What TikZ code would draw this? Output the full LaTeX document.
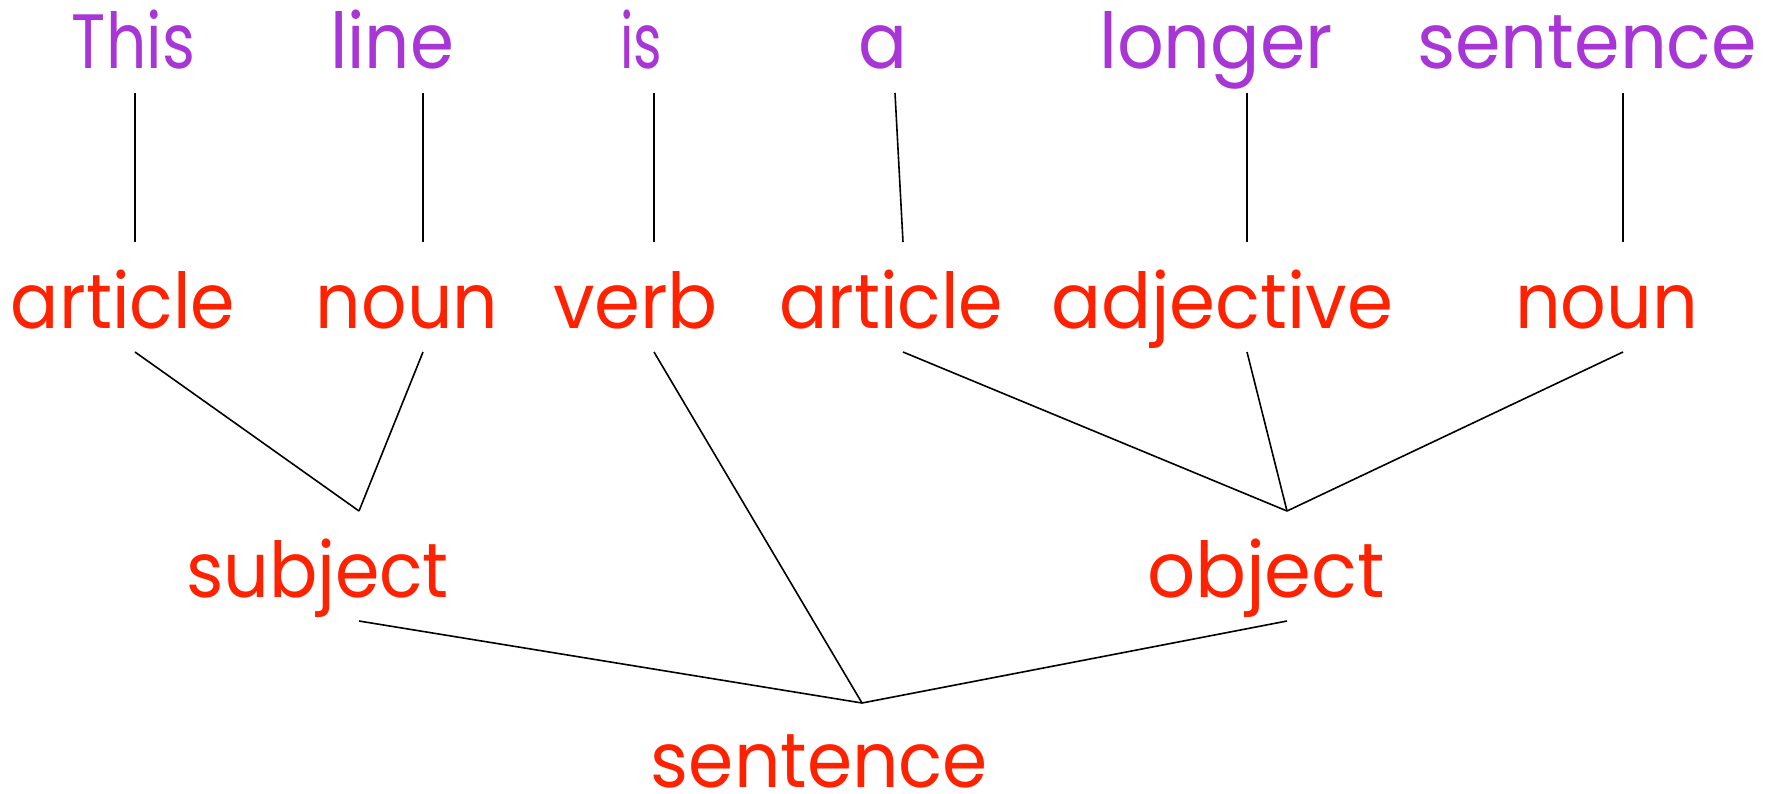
\documentclass[tikz,border=0pt]{standalone}
\usepackage{fontspec}
\usepackage{graphicx}
\setmainfont{Poppins}
\definecolor{wordpurple}{HTML}{A835D6}
\definecolor{partred}{HTML}{FF2200}
\newcommand{\fitw}[2]{\resizebox{#1pt}{\height}{#2}}
\tikzset{
  word/.style={anchor=base, inner sep=0pt, text=wordpurple, font=\fontsize{77}{90}\selectfont},
  part/.style={anchor=base, inner sep=0pt, text=partred, font=\fontsize{77}{90}\selectfont},
  link/.style={draw=black, line width=1.6pt}
}
\begin{document}
\begin{tikzpicture}[x=1pt,y=-1pt]
\useasboundingbox (0,0) rectangle (1773,793);
% words
\node[word] (w1) at (133.5,68) {\fitw{123}{This}};
\node[word] (w2) at (392,68) {\fitw{124}{line}};
\node[word] (w3) at (641,68) {\fitw{42}{is}};
\node[word] (w4) at (883,68) {\fitw{49}{a}};
\node[word] (w5) at (1216,68) {\fitw{234}{longer}};
\node[word] (w6) at (1587,68) {\fitw{340}{sentence}};
% parts of speech
\node[part] (p1) at (123,328) {\fitw{224}{article}};
\node[part] (p2) at (407,328) {\fitw{182}{noun}};
\node[part] (p3) at (635.5,328) {\fitw{165}{verb}};
\node[part] (p4) at (891,328) {\fitw{224}{article}};
\node[part] (p5) at (1222,328) {\fitw{342}{adjective}};
\node[part] (p6) at (1606.5,328) {\fitw{183}{noun}};
\node[part] (subj) at (317.5,597) {\fitw{263}{subject}};
\node[part] (obj) at (1266,597) {\fitw{238}{object}};
\node[part] (sent) at (819.5,787) {\fitw{337}{sentence}};
% connector end points
\coordinate (w1b) at (135,93);   \coordinate (p1t) at (135,242);
\coordinate (w2b) at (423,93);   \coordinate (p2t) at (423,242);
\coordinate (w3b) at (654,93);   \coordinate (p3t) at (654,242);
\coordinate (w4b) at (895,93);   \coordinate (p4t) at (903,242);
\coordinate (w5b) at (1247,93);  \coordinate (p5t) at (1247,242);
\coordinate (w6b) at (1623,93);  \coordinate (p6t) at (1623,242);
\coordinate (p1b) at (135,352);
\coordinate (p2b) at (423,352);
\coordinate (p3b) at (654,352);
\coordinate (p4b) at (903,352);
\coordinate (p5b) at (1247,352);
\coordinate (p6b) at (1623,352);
\coordinate (subjt) at (359,511);
\coordinate (objt) at (1287,511);
\coordinate (subjb) at (359,621);
\coordinate (objb) at (1287,621);
\coordinate (sentt) at (862,703);
% connectors
\draw[link] (w1b) -- (p1t);
\draw[link] (w2b) -- (p2t);
\draw[link] (w3b) -- (p3t);
\draw[link] (w4b) -- (p4t);
\draw[link] (w5b) -- (p5t);
\draw[link] (w6b) -- (p6t);
\draw[link] (p1b) -- (subjt);
\draw[link] (p2b) -- (subjt);
\draw[link] (p4b) -- (objt);
\draw[link] (p5b) -- (objt);
\draw[link] (p6b) -- (objt);
\draw[link] (p3b) -- (sentt);
\draw[link] (subjb) -- (sentt);
\draw[link] (objb) -- (sentt);
\end{tikzpicture}
\end{document}
